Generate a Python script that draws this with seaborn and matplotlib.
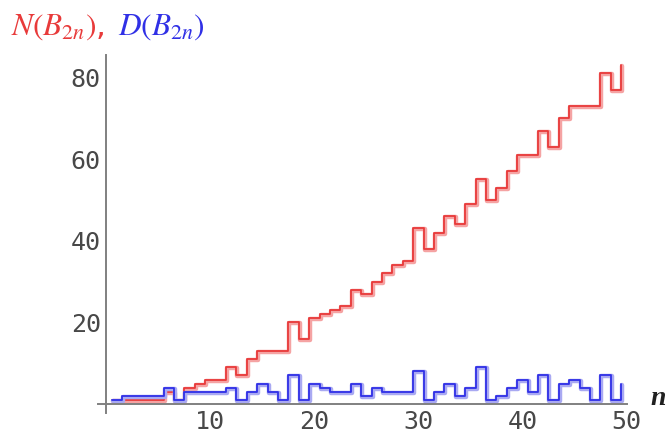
import matplotlib
matplotlib.use("Agg")
import matplotlib.pyplot as plt
import matplotlib.transforms as mtransforms
from matplotlib.ticker import MultipleLocator
import pandas as pd
import seaborn as sns

# digit counts of numerator / denominator of B_{2n}, n = 1..50
n_values = list(range(1, 51))
num_digits = [1, 1, 1, 1, 1, 3, 1, 4, 5, 6,
              6, 9, 7, 11, 13, 13, 13, 20, 16, 21,
              22, 23, 24, 28, 27, 30, 32, 34, 35, 43,
              38, 42, 46, 44, 49, 55, 50, 53, 57, 61,
              61, 67, 63, 70, 73, 73, 73, 81, 77, 83]
den_digits = [1, 2, 2, 2, 2, 4, 1, 3, 3, 3,
              3, 4, 1, 3, 5, 3, 1, 7, 1, 5,
              4, 3, 3, 5, 2, 4, 3, 3, 3, 8,
              1, 3, 5, 2, 4, 9, 1, 2, 4, 6,
              3, 7, 1, 5, 6, 4, 1, 7, 1, 5]
x_ticks = [10, 20, 30, 40, 50]
y_ticks = [20, 40, 60, 80]

df = pd.DataFrame({'n': n_values, 'N': num_digits, 'D': den_digits})
# each value is held on [n - 1/2, n + 1/2]
df['x'] = df['n'] - 0.5

sns.set_style("white")
plt.rcParams['mathtext.fontset'] = 'stix'

fig = plt.figure(figsize=(6.69, 4.33), dpi=100)
ax = fig.add_axes([0.1465, 0.0462, 0.7907, 0.8268])

halo = mtransforms.offset_copy(ax.transData, fig=fig, x=1.0, y=-1.0, units='dots')
series = [('N', '#e83a3a', '#f5a3a3'), ('D', '#3030e6', '#a9a9f2')]
for col, dark, light in series:
    sns.lineplot(data=df, x='x', y=col, ax=ax, estimator=None, drawstyle='steps-post',
                 color=light, linewidth=3.2, transform=halo)
    sns.lineplot(data=df, x='x', y=col, ax=ax, estimator=None, drawstyle='steps-post',
                 color=dark, linewidth=1.3)

ax.set_xlim(-0.8, 50.05)
ax.set_ylim(-2.2, 85.5)

for side in ['top', 'right']:
    ax.spines[side].set_visible(False)
for side in ['left', 'bottom']:
    ax.spines[side].set_position(('data', 0))
    ax.spines[side].set_color('#808080')
    ax.spines[side].set_linewidth(1.4)

ax.set_xticks(x_ticks)
ax.set_yticks(y_ticks)
ax.xaxis.set_minor_locator(MultipleLocator(2))
ax.yaxis.set_minor_locator(MultipleLocator(5))
ax.tick_params(which='both', direction='in', color='#808080', width=1)
ax.tick_params(which='major', length=4.5, labelsize=18, labelcolor='#484848', pad=4)
ax.tick_params(which='minor', length=2.5)
for lab in ax.get_xticklabels() + ax.get_yticklabels():
    lab.set_family('DejaVu Sans Mono')
ax.set_xlabel('')
ax.set_ylabel('')

fig.text(0.972, 0.050, 'n', fontsize=20, style='italic', weight='bold',
         family='Liberation Serif', color='#202020', ha='left', va='bottom')
fig.text(0.016, 0.972, r'$N(B_{2n})$,', fontsize=22.5, color='#e83a3a', ha='left', va='top')
fig.text(0.176, 0.972, r'$D(B_{2n})$', fontsize=22.5, color='#3030e6', ha='left', va='top')

fig.savefig('out.png', dpi=100)
